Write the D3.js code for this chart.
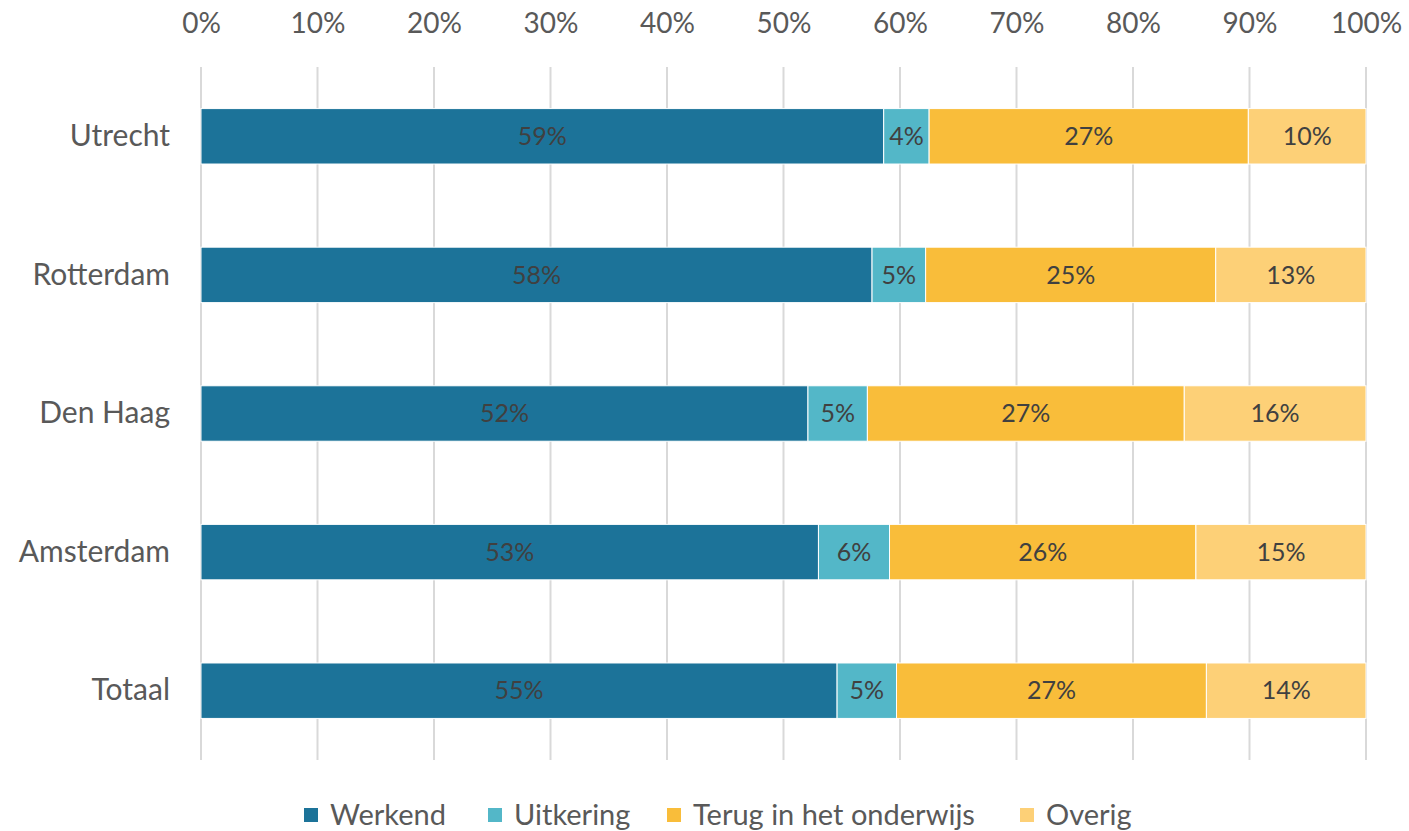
<!DOCTYPE html>
<meta charset="utf-8">
<style>
body { margin: 0; background: #fff; }
text { font-family: Lato, "Open Sans", sans-serif; }
.grid line { stroke: #d9d9d9; stroke-width: 2px; }
</style>
<body>
<svg width="1409" height="831"></svg>
<script src="https://d3js.org/d3.v7.min.js"></script>
<script>
var categories = ["Utrecht", "Rotterdam", "Den Haag", "Amsterdam", "Totaal"];
var seriesNames = ["Werkend", "Uitkering", "Terug in het onderwijs", "Overig"];
var colors = ["#1c7399", "#53b7c8", "#f9bd3a", "#fdd077"];
var werkend = [58.6, 57.6, 52.1, 53.0, 54.6];
var uitkering = [3.9, 4.6, 5.1, 6.1, 5.1];
var terug = [27.4, 24.9, 27.2, 26.3, 26.6];
var overig = [10.1, 12.9, 15.6, 14.6, 13.7];
var tickValues = [0, 10, 20, 30, 40, 50, 60, 70, 80, 90, 100];

var svg = d3.select("svg");

var x = d3.scaleLinear().domain([0, 100]).range([201, 1366]);
var y = d3.scaleBand().domain(categories).range([67, 760]).paddingInner(0.6).paddingOuter(0.3);

// rows
var rows = categories.map(function(c, i) {
  return { cat: c, vals: [werkend[i], uitkering[i], terug[i], overig[i]] };
});

// gridlines
svg.append("g").attr("class", "grid")
  .selectAll("line").data(tickValues).enter().append("line")
  .attr("x1", function(d) { return x(d); })
  .attr("x2", function(d) { return x(d); })
  .attr("y1", 67).attr("y2", 760);

// top axis
var xAxis = d3.axisTop(x).tickValues(tickValues).tickSize(0).tickPadding(0)
  .tickFormat(function(d) { return d + "%"; });
var gx = svg.append("g").attr("transform", "translate(0,33)").call(xAxis);
gx.select(".domain").remove();
gx.selectAll("text").attr("fill", "#595959").style("font-size", "28px");

// left axis
var yAxis = d3.axisLeft(y).tickSize(0).tickPadding(31);
var gy = svg.append("g").attr("transform", "translate(201,0)").call(yAxis);
gy.select(".domain").remove();
gy.selectAll("text").attr("fill", "#595959").style("font-size", "30px");

// bars
var rowG = svg.append("g").selectAll("g").data(rows).enter().append("g");
rowG.each(function(r) {
  var g = d3.select(this);
  var cum = 0;
  r.vals.forEach(function(v, k) {
    var x0 = cum;
    cum += v;
    g.append("rect")
      .attr("x", x(x0))
      .attr("y", y(r.cat))
      .attr("width", x(cum) - x(x0))
      .attr("height", y.bandwidth())
      .attr("fill", colors[k])
      .attr("stroke", "#fff")
      .attr("stroke-width", 1);
    g.append("text")
      .attr("x", (x(x0) + x(cum)) / 2)
      .attr("y", y(r.cat) + y.bandwidth() / 2)
      .attr("dy", "0.35em")
      .attr("text-anchor", "middle")
      .attr("fill", "#404040")
      .style("font-size", "25px")
      .text(Math.round(v) + "%");
  });
});

// legend
var legendX = [304, 488, 667, 1020];
var legend = svg.append("g").selectAll("g").data(seriesNames).enter().append("g")
  .attr("transform", function(d, i) { return "translate(" + legendX[i] + ",815)"; });
legend.append("rect").attr("x", 0).attr("y", -7).attr("width", 14).attr("height", 14)
  .attr("fill", function(d, i) { return colors[i]; });
legend.append("text").attr("x", 26).attr("dy", "0.35em")
  .attr("fill", "#595959").style("font-size", "29px")
  .text(function(d) { return d; });
</script>
</body>
